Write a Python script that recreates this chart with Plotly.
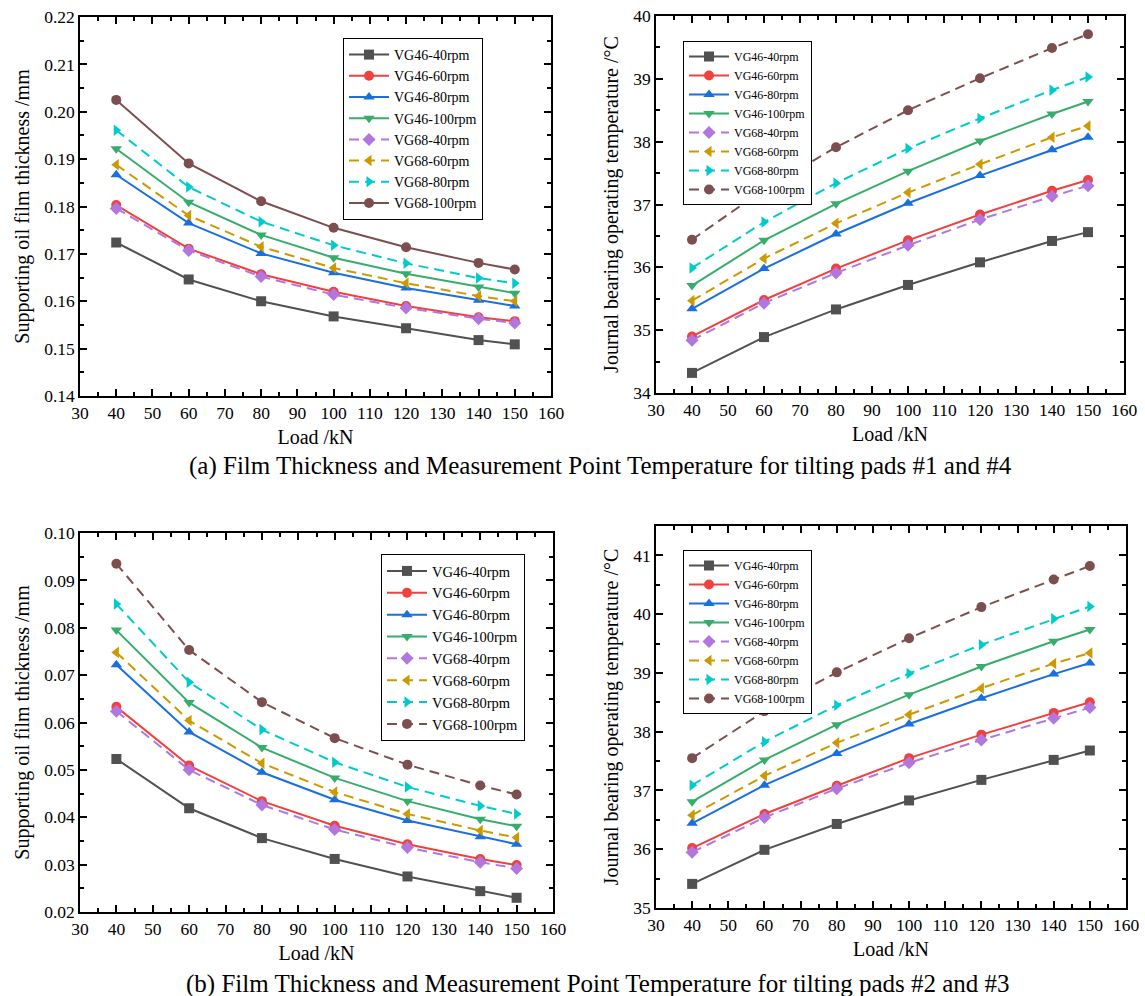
import plotly.graph_objects as go

loads = [40, 60, 80, 100, 120, 140, 150]
series_names = ["VG46-40rpm", "VG46-60rpm", "VG46-80rpm", "VG46-100rpm",
                "VG68-40rpm", "VG68-60rpm", "VG68-80rpm", "VG68-100rpm"]

# (a) pads #1 and #4 : film thickness (mm)
thick_a_vg46_40 = [0.1724, 0.1646, 0.1600, 0.1568, 0.1543, 0.1518, 0.1509]
thick_a_vg46_60 = [0.1803, 0.1711, 0.1657, 0.1620, 0.1590, 0.1566, 0.1558]
thick_a_vg46_80 = [0.1867, 0.1765, 0.1701, 0.1660, 0.1628, 0.1602, 0.1590]
thick_a_vg46_100 = [0.1922, 0.1809, 0.1740, 0.1692, 0.1658, 0.1630, 0.1617]
thick_a_vg68_40 = [0.1796, 0.1707, 0.1652, 0.1614, 0.1586, 0.1563, 0.1554]
thick_a_vg68_60 = [0.1888, 0.1781, 0.1715, 0.1670, 0.1638, 0.1611, 0.1600]
thick_a_vg68_80 = [0.1961, 0.1841, 0.1768, 0.1718, 0.1680, 0.1649, 0.1638]
thick_a_vg68_100 = [0.2025, 0.1891, 0.1811, 0.1755, 0.1714, 0.1681, 0.1667]

# (a) pads #1 and #4 : temperature (C)
temp_a_vg46_40 = [34.32, 34.89, 35.33, 35.72, 36.08, 36.42, 36.56]
temp_a_vg46_60 = [34.90, 35.48, 35.98, 36.43, 36.84, 37.22, 37.39]
temp_a_vg46_80 = [35.34, 35.98, 36.53, 37.02, 37.46, 37.87, 38.07]
temp_a_vg46_100 = [35.71, 36.43, 37.01, 37.53, 38.01, 38.44, 38.64]
temp_a_vg68_40 = [34.84, 35.43, 35.91, 36.35, 36.76, 37.13, 37.30]
temp_a_vg68_60 = [35.47, 36.14, 36.70, 37.19, 37.64, 38.07, 38.25]
temp_a_vg68_80 = [35.99, 36.72, 37.34, 37.89, 38.37, 38.82, 39.03]
temp_a_vg68_100 = [36.44, 37.24, 37.91, 38.50, 39.01, 39.49, 39.71]

# (b) pads #2 and #3 : film thickness (mm)
thick_b_vg46_40 = [0.0523, 0.0419, 0.0356, 0.0312, 0.0275, 0.0244, 0.0230]
thick_b_vg46_60 = [0.0633, 0.0509, 0.0434, 0.0382, 0.0343, 0.0312, 0.0299]
thick_b_vg46_80 = [0.0722, 0.0580, 0.0495, 0.0437, 0.0393, 0.0359, 0.0343]
thick_b_vg46_100 = [0.0795, 0.0642, 0.0547, 0.0483, 0.0434, 0.0396, 0.0381]
thick_b_vg68_40 = [0.0624, 0.0500, 0.0426, 0.0374, 0.0336, 0.0305, 0.0292]
thick_b_vg68_60 = [0.0748, 0.0604, 0.0514, 0.0453, 0.0407, 0.0372, 0.0357]
thick_b_vg68_80 = [0.0850, 0.0685, 0.0585, 0.0516, 0.0464, 0.0424, 0.0407]
thick_b_vg68_100 = [0.0935, 0.0753, 0.0643, 0.0567, 0.0511, 0.0467, 0.0448]

# (b) pads #2 and #3 : temperature (C)
temp_b_vg46_40 = [35.41, 35.99, 36.43, 36.83, 37.18, 37.52, 37.68]
temp_b_vg46_60 = [36.02, 36.60, 37.08, 37.55, 37.95, 38.32, 38.50]
temp_b_vg46_80 = [36.44, 37.09, 37.63, 38.13, 38.57, 38.98, 39.17]
temp_b_vg46_100 = [36.81, 37.52, 38.12, 38.63, 39.11, 39.54, 39.74]
temp_b_vg68_40 = [35.95, 36.54, 37.03, 37.47, 37.86, 38.23, 38.41]
temp_b_vg68_60 = [36.58, 37.25, 37.81, 38.29, 38.74, 39.16, 39.34]
temp_b_vg68_80 = [37.09, 37.83, 38.45, 38.99, 39.48, 39.92, 40.13]
temp_b_vg68_100 = [37.55, 38.35, 39.01, 39.59, 40.12, 40.59, 40.82]

panel_a_thick = [thick_a_vg46_40, thick_a_vg46_60, thick_a_vg46_80, thick_a_vg46_100,
                 thick_a_vg68_40, thick_a_vg68_60, thick_a_vg68_80, thick_a_vg68_100]
panel_a_temp = [temp_a_vg46_40, temp_a_vg46_60, temp_a_vg46_80, temp_a_vg46_100,
                temp_a_vg68_40, temp_a_vg68_60, temp_a_vg68_80, temp_a_vg68_100]
panel_b_thick = [thick_b_vg46_40, thick_b_vg46_60, thick_b_vg46_80, thick_b_vg46_100,
                 thick_b_vg68_40, thick_b_vg68_60, thick_b_vg68_80, thick_b_vg68_100]
panel_b_temp = [temp_b_vg46_40, temp_b_vg46_60, temp_b_vg46_80, temp_b_vg46_100,
                temp_b_vg68_40, temp_b_vg68_60, temp_b_vg68_80, temp_b_vg68_100]

colors = ["#515151", "#F14040", "#1A6FDF", "#37AD6B", "#B177DE", "#CC9900", "#00CBCC", "#7D4E4E"]
symbols = ["square", "circle", "triangle-up", "triangle-down", "diamond",
           "triangle-left", "triangle-right", "circle"]
DASH = "10px,6px"

FONT = "Liberation Serif, Times New Roman, serif"
W, H = 1145, 996

def xd(a, b):
    return [a / W, b / W]

def yd(top, bottom):
    return [1 - bottom / H, 1 - top / H]

panels = [
    # (data, xaxis, yaxis, legend, xdom, ydom, yrange, ydtick, ytitle, tickformat, last_solid)
    (panel_a_thick, "x", "y", "legend", xd(80, 551), yd(17, 396), [0.14, 0.22], 0.01,
     "Supporting oil film thickness /mm", ".2f", True),
    (panel_a_temp, "x2", "y2", "legend2", xd(656, 1124), yd(16, 393), [34, 40], 1,
     "Journal bearing operating temperature /°C", "d", False),
    (panel_b_thick, "x3", "y3", "legend3", xd(80, 553), yd(533, 912), [0.02, 0.10], 0.01,
     "Supporting oil film thickness /mm", ".2f", False),
    (panel_b_temp, "x4", "y4", "legend4", xd(656, 1126), yd(526, 908), [35, 41.5], 1,
     "Journal bearing operating temperature /°C", "d", False),
]

fig = go.Figure()
layout = dict(
    template="none",
    width=W, height=H,
    margin=dict(l=0, r=0, t=0, b=0, autoexpand=False),
    paper_bgcolor="white", plot_bgcolor="white",
    font=dict(family=FONT, color="black", size=17),
    showlegend=True,
)

legend_pos = {
    "legend": (343, 38, 14),
    "legend2": (683, 41, 12),
    "legend3": (381, 554, 14.5),
    "legend4": (683, 550, 12),
}

for i, (data, xa, ya, lg, xdom, ydom, yr, ydt, ytitle, tf, last_solid) in enumerate(panels):
    for k, (name, vals) in enumerate(zip(series_names, data)):
        dashed = k >= 4 and not (k == 7 and last_solid)
        fig.add_trace(go.Scatter(
            x=loads, y=vals, name=name, mode="lines+markers",
            xaxis=xa, yaxis=ya, legend=lg,
            line=dict(color=colors[k], width=2, dash=DASH if dashed else "solid"),
            marker=dict(symbol=symbols[k], size=10, color=colors[k]),
        ))
    suffix = "" if i == 0 else str(i + 1)
    common = dict(
        showline=True, linecolor="black", linewidth=1.5, mirror="allticks",
        ticks="inside", ticklen=7, tickwidth=1.5, tickcolor="black",
        showgrid=False, zeroline=False, automargin=False,
        tickfont=dict(family=FONT, size=17.5, color="black"),
    )
    minor = dict(ticks="inside", ticklen=4, tickwidth=1.5, tickcolor="black", showgrid=False)
    layout["xaxis" + suffix] = dict(
        common, domain=xdom, anchor=ya, range=[30, 160], dtick=10, tick0=30,
        minor=dict(minor, dtick=5),
        title=dict(text="Load /kN", font=dict(family=FONT, size=20), standoff=8),
    )
    layout["yaxis" + suffix] = dict(
        common, domain=ydom, anchor=xa, range=yr, dtick=ydt, tickformat=tf,
        minor=dict(minor, dtick=ydt / 2),
        title=dict(text=ytitle, font=dict(family=FONT, size=20), standoff=9),
    )
    lx, ly, fs = legend_pos[lg]
    layout[lg] = dict(
        x=lx / W, y=1 - ly / H, xanchor="left", yanchor="top",
        bgcolor="white", bordercolor="black", borderwidth=1,
        font=dict(family=FONT, size=fs, color="black"),
        itemwidth=40, tracegroupgap=0,
    )

layout["annotations"] = [
    dict(text="(a) Film Thickness and Measurement Point Temperature for tilting pads #1 and #4",
         x=600 / W, y=1 - 466 / H, xref="paper", yref="paper", showarrow=False,
         xanchor="center", yanchor="middle", font=dict(family=FONT, size=25)),
    dict(text="(b) Film Thickness and Measurement Point Temperature for tilting pads #2 and #3",
         x=598 / W, y=1 - 984 / H, xref="paper", yref="paper", showarrow=False,
         xanchor="center", yanchor="middle", font=dict(family=FONT, size=25)),
]

fig.update_layout(**layout)
fig.write_html("out.html", config={"displayModeBar": False},
               post_script="document.body.style.margin='0';document.body.style.padding='0';")
